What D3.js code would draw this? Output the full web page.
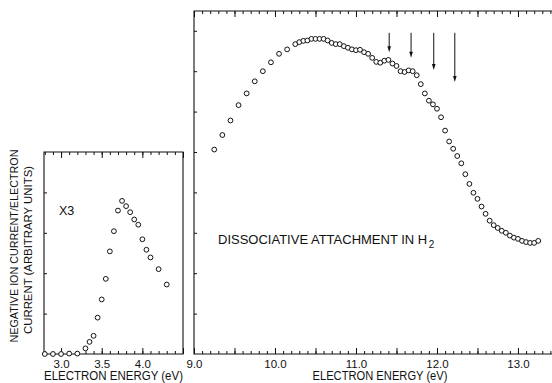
<!DOCTYPE html>
<html>
<head>
<meta charset="utf-8">
<script src="https://cdn.jsdelivr.net/npm/d3@7"></script>
<style>
  html, body { margin: 0; padding: 0; background: #fff; }
  svg { display: block; }
  text { font-family: "Liberation Sans", Arial, sans-serif; fill: #111; }
</style>
</head>
<body>
<svg id="chart" width="552" height="383"></svg>
<script>
// Low-energy peak (shown x3)
const lowEnergy = [2.8, 2.9, 3.0, 3.1, 3.2, 3.3, 3.35, 3.4, 3.45, 3.5, 3.55, 3.6,
  3.65, 3.7, 3.75, 3.8, 3.85, 3.9, 3.95, 4.0, 4.05, 4.1, 4.2, 4.3];
const lowCurrent = [0, 0, 0, 0.01, 0.01, 0.14, 0.30, 0.45, 0.90, 1.35, 1.86, 2.54,
  3.04, 3.55, 3.79, 3.66, 3.51, 3.33, 3.20, 2.84, 2.58, 2.39, 2.10, 1.72];

// Dissociative attachment band in H2
const highEnergy = [9.25, 9.35, 9.45, 9.55, 9.65, 9.75, 9.85, 9.95, 10.05, 10.15,
  10.25, 10.30, 10.35, 10.40, 10.45, 10.50, 10.55, 10.60, 10.65, 10.70, 10.75,
  10.80, 10.85, 10.90, 10.95, 11.00, 11.05, 11.10, 11.15, 11.20, 11.25, 11.30,
  11.35, 11.40, 11.45, 11.50, 11.55, 11.60, 11.65, 11.70, 11.75, 11.80, 11.85,
  11.90, 11.95, 12.00, 12.05, 12.10, 12.15, 12.20, 12.25, 12.30, 12.35, 12.40,
  12.45, 12.50, 12.55, 12.60, 12.65, 12.70, 12.75, 12.80, 12.85, 12.90, 12.95,
  13.00, 13.05, 13.10, 13.15, 13.20, 13.25];
const highCurrent = [5.06, 5.42, 5.78, 6.16, 6.45, 6.75, 7.00, 7.22, 7.43, 7.54,
  7.67, 7.72, 7.75, 7.76, 7.80, 7.80, 7.80, 7.80, 7.76, 7.70, 7.67,
  7.67, 7.62, 7.58, 7.54, 7.52, 7.53, 7.47, 7.43, 7.33, 7.23, 7.21,
  7.26, 7.28, 7.19, 7.13, 7.00, 6.98, 7.02, 7.00, 6.90, 6.68, 6.45,
  6.27, 6.18, 6.07, 5.86, 5.53, 5.26, 5.08, 4.90, 4.72, 4.45, 4.21,
  3.99, 3.84, 3.65, 3.47, 3.30, 3.19, 3.12, 3.05, 3.00, 2.93, 2.88,
  2.85, 2.80, 2.77, 2.75, 2.75, 2.80];

// Vertical arrows marking structure in the band
const arrowEnergy = [11.41, 11.68, 11.96, 12.22];
const arrowTip = [7.47, 7.33, 7.03, 6.73];
const arrowTop = 7.95;

const lowTickLabels = [3.0, 3.5, 4.0];
const highTickLabels = [9.0, 10.0, 11.0, 12.0, 13.0];

const svg = d3.select('#chart');
const ink = '#111';

const xLow = d3.scaleLinear().domain([2.79, 4.5]).range([44, 183]);
const yLow = d3.scaleLinear().domain([0, 5]).range([354, 152]);
const xHigh = d3.scaleLinear().domain([9, 13.42]).range([194, 552]);
const yHigh = d3.scaleLinear().domain([0, 8.49]).range([354, 11]);

function steps(lo, hi, step) {
  const out = [];
  for (let v = Math.ceil(lo / step - 1e-6) * step; v <= hi + 1e-6; v += step) out.push(+v.toFixed(2));
  return out;
}

function drawPanel(x, y, labels, yTicks, closeRight, titleX, titleW) {
  const [x0, x1] = x.range();
  const [yb, yt] = y.range();
  const [d0, d1] = x.domain();
  const g = svg.append('g');

  // frame (the wide panel runs off the right edge)
  const frame = closeRight
    ? `M${x0},${yb}V${yt}H${x1}V${yb}Z`
    : `M${x1 + 2},${yb}H${x0}V${yt}H${x1 + 2}`;
  g.append('path').attr('d', frame)
    .attr('fill', 'none').attr('stroke', ink).attr('stroke-width', 1.1);

  const minor = steps(d0, d1, 0.1);
  const major = steps(d0, d1, 0.5);

  // bottom ticks point up, top ticks point down
  [[d3.axisBottom, yb], [d3.axisTop, yt]].forEach(([axisFn, pos]) => {
    g.append('g').attr('transform', `translate(0,${pos})`)
      .call(axisFn(x).tickValues(minor).tickSize(-3).tickFormat(''))
      .call(a => a.select('.domain').remove());
    g.append('g').attr('transform', `translate(0,${pos})`)
      .call(axisFn(x).tickValues(major).tickSize(-6).tickFormat(''))
      .call(a => a.select('.domain').remove());
  });

  g.append('g').attr('transform', `translate(0,${yb})`)
    .call(d3.axisBottom(x).tickValues(labels).tickSize(0).tickPadding(6).tickFormat(d3.format('.1f')))
    .call(a => a.select('.domain').remove())
    .selectAll('text').attr('font-size', 11.5).attr('fill', ink);

  g.append('g').attr('transform', `translate(${x0},0)`)
    .call(d3.axisLeft(y).tickValues(yTicks).tickSize(-3).tickFormat(''))
    .call(a => a.select('.domain').remove());

  g.selectAll('.tick line').attr('stroke', ink).attr('stroke-width', 1);

  g.append('text')
    .attr('x', titleX)
    .attr('y', 380)
    .attr('text-anchor', 'middle')
    .attr('font-size', 12.5)
    .attr('textLength', titleW)
    .attr('lengthAdjust', 'spacingAndGlyphs')
    .text('ELECTRON ENERGY (eV)');
  return g;
}

function drawPoints(g, x, y, xs, ys) {
  g.selectAll('circle.pt')
    .data(xs.map((e, i) => [e, ys[i]]))
    .join('circle')
    .attr('class', 'pt')
    .attr('cx', d => x(d[0]))
    .attr('cy', d => y(d[1]))
    .attr('r', 2.4)
    .attr('fill', '#fff')
    .attr('stroke', ink)
    .attr('stroke-width', 1);
}

const lowG = drawPanel(xLow, yLow, lowTickLabels, [1, 2, 3, 4], true, 113.5, 139);
const highG = drawPanel(xHigh, yHigh, highTickLabels, [1, 2, 3, 4, 5, 6, 7, 8], false, 380, 135);

drawPoints(lowG, xLow, yLow, lowEnergy, lowCurrent);
drawPoints(highG, xHigh, yHigh, highEnergy, highCurrent);

// arrows: shaft plus a narrow filled head
const arrows = highG.selectAll('g.arrow')
  .data(arrowEnergy.map((e, i) => [e, arrowTip[i]]))
  .join('g')
  .attr('class', 'arrow');
arrows.append('line')
  .attr('x1', d => xHigh(d[0])).attr('x2', d => xHigh(d[0]))
  .attr('y1', yHigh(arrowTop))
  .attr('y2', d => yHigh(d[1]) - 4)
  .attr('stroke', ink).attr('stroke-width', 1);
arrows.append('path')
  .attr('d', d => {
    const ax = xHigh(d[0]), ay = yHigh(d[1]);
    return `M${ax - 1.8},${ay - 6}L${ax},${ay}L${ax + 1.8},${ay - 6}Z`;
  })
  .attr('fill', ink);

// annotations
svg.append('text')
  .attr('x', 59).attr('y', 215)
  .attr('font-size', 12.5)
  .text('X3');

const title = svg.append('text')
  .attr('x', 218).attr('y', 244)
  .attr('font-size', 13)
  .text('DISSOCIATIVE ATTACHMENT IN H');
const titleEnd = 218 + title.node().getComputedTextLength();
svg.append('text')
  .attr('x', titleEnd + 1.5).attr('y', 248)
  .attr('font-size', 10)
  .text('2');

// y-axis title (two lines)
const yTitle = svg.append('g').attr('transform', 'translate(0,246) rotate(-90)');
yTitle.append('text')
  .attr('x', 0).attr('y', 18)
  .attr('text-anchor', 'middle').attr('font-size', 11)
  .attr('textLength', 193).attr('lengthAdjust', 'spacingAndGlyphs')
  .text('NEGATIVE ION CURRENT/ELECTRON');
yTitle.append('text')
  .attr('x', -4).attr('y', 32)
  .attr('text-anchor', 'middle').attr('font-size', 11)
  .attr('textLength', 168).attr('lengthAdjust', 'spacingAndGlyphs')
  .text('CURRENT  (ARBITRARY UNITS)');
</script>
</body>
</html>
